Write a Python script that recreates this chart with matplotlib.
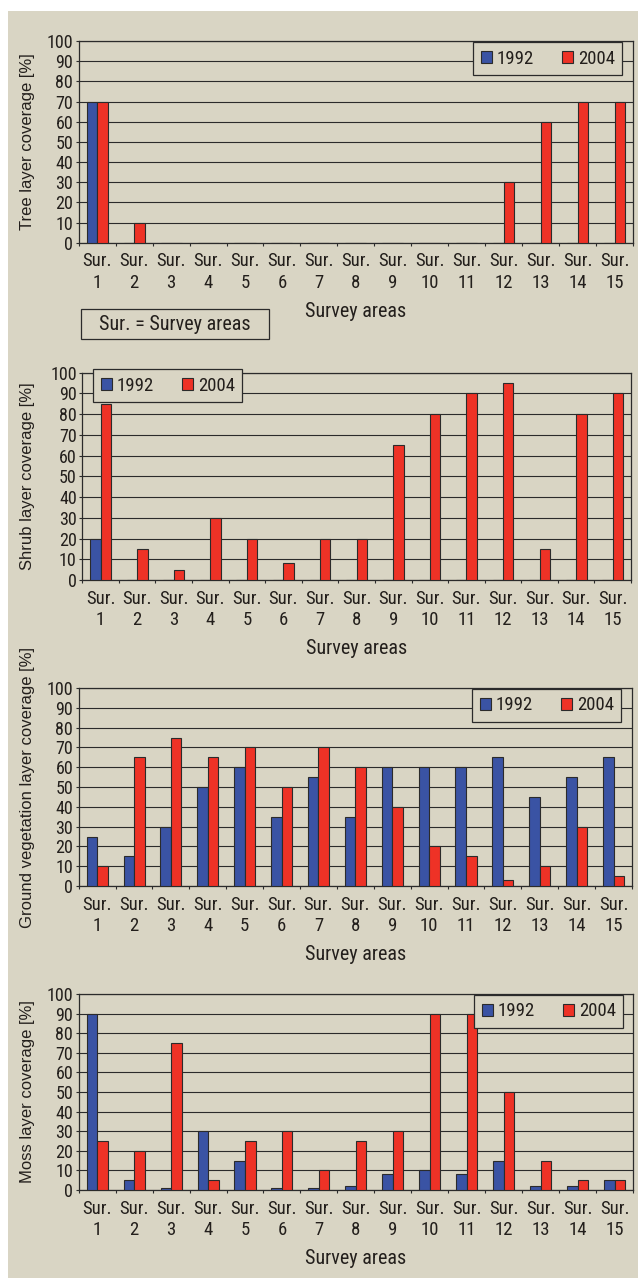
import matplotlib.pyplot as plt
import numpy as np
from matplotlib.patches import Rectangle

# survey areas and the two survey years
areas = [f"Sur.\n{i}" for i in range(1, 16)]
years = ["1992", "2004"]

tree_1992 = [70, 0, 0, 0, 0, 0, 0, 0, 0, 0, 0, 0, 0, 0, 0]
tree_2004 = [70, 10, 0, 0, 0, 0, 0, 0, 0, 0, 0, 30, 60, 70, 70]

shrub_1992 = [20, 0, 0, 0, 0, 0, 0, 0, 0, 0, 0, 0, 0, 0, 0]
shrub_2004 = [85, 15, 5, 30, 20, 8, 20, 20, 65, 80, 90, 95, 15, 80, 90]

ground_1992 = [25, 15, 30, 50, 60, 35, 55, 35, 60, 60, 60, 65, 45, 55, 65]
ground_2004 = [10, 65, 75, 65, 70, 50, 70, 60, 40, 20, 15, 3, 10, 30, 5]

moss_1992 = [90, 5, 1, 30, 15, 1, 1, 2, 8, 10, 8, 15, 2, 2, 5]
moss_2004 = [25, 20, 75, 5, 25, 30, 10, 25, 30, 90, 90, 50, 15, 5, 5]

ylabels = [
    "Tree layer coverage [%]",
    "Shrub layer coverage [%]",
    "Ground vegetation layer coverage [%]",
    "Moss layer coverage [%]",
]

W, H = 638, 1278
BG = "#d9d5c4"
BLUE = "#3a53a4"
RED = "#ee3226"
EDGE = "#2b2b2b"
TXT = "#231f1c"
NARROW = ["Roboto Condensed", "Archivo Narrow", "PT Sans Narrow", "DejaVu Sans"]
WIDE = ["Liberation Sans", "DejaVu Sans"]


def px_rect(l, t, r, b):
    return [l / W, 1 - b / H, (r - l) / W, (b - t) / H]


# (left, top, right, bottom) of each plot area and legend corner, in pixels
panels = [
    (tree_1992, tree_2004, (78.7, 41, 633, 242.7), (473, 42)),
    (shrub_1992, shrub_2004, (82.3, 372.7, 631, 580), (93, 369)),
    (ground_1992, ground_2004, (78.7, 688, 632, 886), (472, 689)),
    (moss_1992, moss_2004, (78.7, 994, 633, 1190), (474, 995)),
]

fig = plt.figure(figsize=(W / 100, H / 100), dpi=100, facecolor="white")
fig.patches.append(Rectangle((8 / W, 0), 1 - 8 / W, 1 - 11 / H, transform=fig.transFigure,
                             facecolor=BG, edgecolor="none", zorder=-1))

x = np.arange(len(areas))
w = 0.285

for i, (v1992, v2004, box, leg_xy) in enumerate(panels):
    l, t, r, b = box
    ax = fig.add_axes(px_rect(l, t, r, b))
    ax.set_facecolor(BG)

    ax.bar(x - w / 2, v1992, w, color=BLUE, edgecolor=EDGE, linewidth=0.8, zorder=3)
    ax.bar(x + w / 2, v2004, w, color=RED, edgecolor=EDGE, linewidth=0.8, zorder=3)

    ax.set_xlim(-0.5, len(areas) - 0.5)
    ax.set_ylim(0, 100)
    ax.set_yticks(range(0, 101, 10))
    ax.yaxis.grid(True, color=EDGE, linewidth=0.8)
    ax.set_axisbelow(True)

    # ticks between categories, labels centred on categories
    ax.set_xticks(np.arange(-0.5, len(areas), 1))
    ax.set_xticklabels([])
    ax.set_xticks(x, minor=True)
    ax.set_xticklabels(areas, minor=True, fontsize=13.5, family=NARROW, color=TXT, linespacing=1.25)
    ax.tick_params(axis="x", which="minor", length=0, pad=7)
    ax.tick_params(axis="x", which="major", length=2.5, width=0.8, color=EDGE)
    ax.tick_params(axis="y", length=2.5, width=0.8, pad=1.5, color=EDGE, labelcolor=TXT)
    for lab in ax.get_yticklabels():
        lab.set_family(NARROW)
        lab.set_fontsize(13)
    for sp in ax.spines.values():
        sp.set_color(EDGE)
        sp.set_linewidth(0.9)

    fig.text(28 / W, 1 - (t + b) / 2 / H, ylabels[i], rotation=90, ha="center", va="center",
             fontsize=12, family=WIDE, color=TXT)
    fig.text((l + r) / 2 / W, 1 - (b + 69) / H, "Survey areas", ha="center", va="center",
             fontsize=14.5, family=NARROW, color=TXT)

    handles = [Rectangle((0, 0), 1, 1, facecolor=c, edgecolor=EDGE, linewidth=0.8) for c in (BLUE, RED)]
    leg = ax.legend(handles, years, loc="upper left", bbox_to_anchor=(leg_xy[0] / W, 1 - leg_xy[1] / H),
                    bbox_transform=fig.transFigure, borderaxespad=0, ncol=2, fancybox=False,
                    edgecolor=EDGE, facecolor=BG, framealpha=1, handlelength=0.6, handleheight=0.6,
                    handletextpad=0.25, columnspacing=1.5, borderpad=0.4,
                    prop={"family": NARROW, "size": 13.5})
    leg.get_frame().set_linewidth(0.9)
    for txt in leg.get_texts():
        txt.set_color(TXT)

# abbreviation note under the first chart
fig.patches.append(Rectangle((81 / W, 1 - 339 / H), 188 / W, 30 / H, transform=fig.transFigure,
                             facecolor=BG, edgecolor=EDGE, linewidth=0.9, zorder=1))
fig.text(175 / W, 1 - 324 / H, "Sur. = Survey areas", ha="center", va="center",
         fontsize=14.5, family=NARROW, color=TXT)

fig.savefig("out.png", dpi=100, facecolor="white")
